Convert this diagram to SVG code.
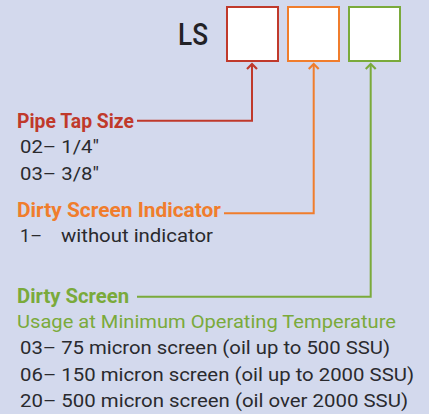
<svg xmlns="http://www.w3.org/2000/svg" width="429" height="414" viewBox="0 0 429 414">
<style>
.bg{fill:#d3d9ed}
.box{fill:#ffffff;stroke-width:2}
.hd{font-family:"Roboto","Liberation Sans",sans-serif;font-weight:bold;font-size:19.5px}
.bd{font-family:"Roboto","Liberation Sans",sans-serif;font-size:18.5px;fill:#2a2a2e}
.ln{fill:none;stroke-width:2}
.red{stroke:#c0392b}
.org{stroke:#f07d2c}
.grn{stroke:#7aaa3b}
</style>
<defs>
<marker id="mr" markerUnits="userSpaceOnUse" viewBox="-8 -6 10 12" markerWidth="10" markerHeight="12" orient="auto" refX="0" refY="0"><path d="M-5,-5 L0,0 L-5,5" fill="none" stroke="#c0392b" stroke-width="2.2"/></marker>
<marker id="mo" markerUnits="userSpaceOnUse" viewBox="-8 -6 10 12" markerWidth="10" markerHeight="12" orient="auto" refX="0" refY="0"><path d="M-5,-5 L0,0 L-5,5" fill="none" stroke="#f07d2c" stroke-width="2.2"/></marker>
<marker id="mg" markerUnits="userSpaceOnUse" viewBox="-8 -6 10 12" markerWidth="10" markerHeight="12" orient="auto" refX="0" refY="0"><path d="M-5,-5 L0,0 L-5,5" fill="none" stroke="#7aaa3b" stroke-width="2.2"/></marker>
</defs>
<rect class="bg" x="0" y="0" width="429" height="414"/>
<g id="ls-label"><text x="178" y="45" font-family="Roboto,'Liberation Sans',sans-serif" font-weight="500" font-size="31" fill="#222226" textLength="30" lengthAdjust="spacingAndGlyphs">LS</text></g>
<g id="box-pipe"><rect class="box red" x="227" y="7" width="51" height="54"/></g>
<g id="box-indicator"><rect class="box org" x="288" y="7" width="51" height="54"/></g>
<g id="box-screen"><rect class="box grn" x="349" y="7" width="51" height="54"/></g>
<g id="connectors">
<path class="ln red" d="M137,120.7 H252 V64" marker-end="url(#mr)"/>
<path class="ln org" d="M224,213.3 H313.7 V64" marker-end="url(#mo)"/>
<path class="ln grn" d="M137,296.7 H370.7 V64" marker-end="url(#mg)"/>
</g>
<g id="pipe-tap-size">
<text class="hd" x="17" y="128" fill="#c0392b" textLength="117" lengthAdjust="spacingAndGlyphs">Pipe Tap Size</text>
<text class="bd" x="20" y="153" textLength="79" lengthAdjust="spacingAndGlyphs">02– 1/4″</text>
<text class="bd" x="20" y="180" textLength="79" lengthAdjust="spacingAndGlyphs">03– 3/8″</text>
</g>
<g id="dirty-screen-indicator">
<text class="hd" x="17" y="216.5" fill="#f07d2c" textLength="204" lengthAdjust="spacingAndGlyphs">Dirty Screen Indicator</text>
<text class="bd" x="20" y="241.5" textLength="22" lengthAdjust="spacingAndGlyphs">1–</text>
<text class="bd" x="61" y="241.5" textLength="152" lengthAdjust="spacingAndGlyphs">without indicator</text>
</g>
<g id="dirty-screen">
<text class="hd" x="17" y="303" fill="#7aaa3b" textLength="112" lengthAdjust="spacingAndGlyphs">Dirty Screen</text>
<text class="bd" x="17" y="328" style="fill:#7aaa3b" textLength="379" lengthAdjust="spacingAndGlyphs">Usage at Minimum Operating Temperature</text>
<text class="bd" x="20" y="354" textLength="370" lengthAdjust="spacingAndGlyphs">03– 75 micron screen (oil up to 500 SSU)</text>
<text class="bd" x="20" y="380.5" textLength="394" lengthAdjust="spacingAndGlyphs">06– 150 micron screen (oil up to 2000 SSU)</text>
<text class="bd" x="20" y="406.5" textLength="388" lengthAdjust="spacingAndGlyphs">20– 500 micron screen (oil over 2000 SSU)</text>
</g>
</svg>
